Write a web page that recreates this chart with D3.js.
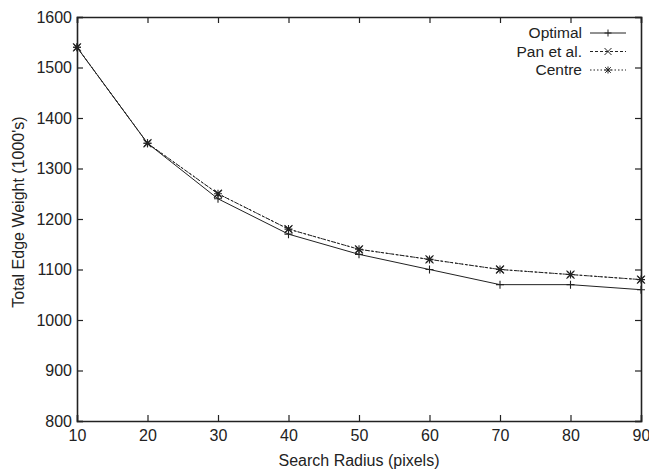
<!DOCTYPE html>
<html>
<head>
<meta charset="utf-8">
<script src="https://cdn.jsdelivr.net/npm/d3@7"></script>
<style>
  body { margin: 0; background: #fff; }
  text { font-family: "Liberation Sans", Arial, sans-serif; fill: #222; }
</style>
</head>
<body>
<script>
(function () {
    'use strict';

    const width = 649;
    const height = 471;
    const margin = {top: 17, left: 77, right: 8, bottom: 50};

    const radius = [10, 20, 30, 40, 50, 60, 70, 80, 90];
    const optimal = [1540, 1350, 1240, 1170, 1130, 1100, 1070, 1070, 1060];
    const panEtAl = [1540, 1350, 1250, 1180, 1140, 1120, 1100, 1090, 1080];
    const centre = [1540, 1350, 1250, 1180, 1140, 1120, 1100, 1090, 1080];
    const yTicks = [800, 900, 1000, 1100, 1200, 1300, 1400, 1500, 1600];

    const series = [
        {name: "Optimal", values: optimal, dash: null, marker: "plus"},
        {name: "Pan et al.", values: panEtAl, dash: "3,2", marker: "cross"},
        {name: "Centre", values: centre, dash: "1.5,2", marker: "star"}
    ];

    const svg = d3.select("body").append("svg")
        .attr("width", width)
        .attr("height", height);

    const x = d3.scaleLinear().domain([10, 90]).range([margin.left, width - margin.right]);
    const y = d3.scaleLinear().domain([800, 1600]).range([height - margin.bottom, margin.top]);

    const ink = "#222";
    const fmt = d3.format("d");

    // axes: bottom/left with labels, top/right mirrored ticks pointing inward
    svg.append("g")
        .attr("transform", `translate(0,${y(800)})`)
        .call(d3.axisBottom(x).tickValues(radius).tickSize(-6).tickPadding(9).tickFormat(fmt))
        .call(g => g.selectAll("text").attr("font-size", 16));
    svg.append("g")
        .attr("transform", `translate(0,${y(1600)})`)
        .call(d3.axisTop(x).tickValues(radius).tickSize(-6).tickFormat(""));
    svg.append("g")
        .attr("transform", `translate(${x(10)},0)`)
        .call(d3.axisLeft(y).tickValues(yTicks).tickSize(-6).tickPadding(5).tickFormat(fmt))
        .call(g => g.selectAll("text").attr("font-size", 16));
    svg.append("g")
        .attr("transform", `translate(${x(90)},0)`)
        .call(d3.axisRight(y).tickValues(yTicks).tickSize(-6).tickFormat(""));

    svg.selectAll(".domain").attr("stroke", ink).attr("stroke-width", 1.6);
    svg.selectAll(".tick line").attr("stroke", ink).attr("stroke-width", 1.2);
    svg.selectAll(".tick text").attr("fill", ink).style("font-family", "'Liberation Sans', Arial, sans-serif");

    svg.append("text")
        .attr("x", 359)
        .attr("y", 466)
        .attr("text-anchor", "middle")
        .attr("font-size", 16)
        .text("Search Radius (pixels)");

    svg.append("text")
        .attr("transform", "translate(24,212) rotate(-90)")
        .attr("text-anchor", "middle")
        .attr("font-size", 16)
        .text("Total Edge Weight (1000's)");

    const markerPath = (type, s) => {
        if (type === "plus") return `M${-s},0H${s}M0,${-s}V${s}`;
        if (type === "cross") return `M${-s},${-s}L${s},${s}M${-s},${s}L${s},${-s}`;
        return `M${-s},0H${s}M0,${-s}V${s}M${-s * 0.8},${-s * 0.8}L${s * 0.8},${s * 0.8}M${-s * 0.8},${s * 0.8}L${s * 0.8},${-s * 0.8}`;
    };

    const line = d3.line().x(d => x(d[0])).y(d => y(d[1]));

    series.forEach(s => {
        const pts = radius.map((r, i) => [r, s.values[i]]);
        svg.append("path")
            .datum(pts)
            .attr("fill", "none")
            .attr("stroke", ink)
            .attr("stroke-width", 1)
            .attr("stroke-dasharray", s.dash)
            .attr("d", line);
        svg.selectAll(null)
            .data(pts)
            .enter().append("path")
            .attr("transform", d => `translate(${x(d[0])},${y(d[1])})`)
            .attr("d", markerPath(s.marker, 4))
            .attr("stroke", ink)
            .attr("stroke-width", 1.1)
            .attr("fill", "none");
    });

    // legend
    const legend = svg.append("g");
    series.forEach((s, i) => {
        const ly = 33 + i * 18.5;
        legend.append("text")
            .attr("x", 582)
            .attr("y", ly)
            .attr("dy", "0.35em")
            .attr("text-anchor", "end")
            .attr("font-size", 15.5)
            .text(s.name);
        legend.append("line")
            .attr("x1", 590).attr("x2", 626)
            .attr("y1", ly).attr("y2", ly)
            .attr("stroke", ink)
            .attr("stroke-dasharray", s.dash);
        legend.append("path")
            .attr("transform", `translate(608,${ly})`)
            .attr("d", markerPath(s.marker, 3.5))
            .attr("stroke", ink)
            .attr("fill", "none");
    });
}());
</script>
</body>
</html>
